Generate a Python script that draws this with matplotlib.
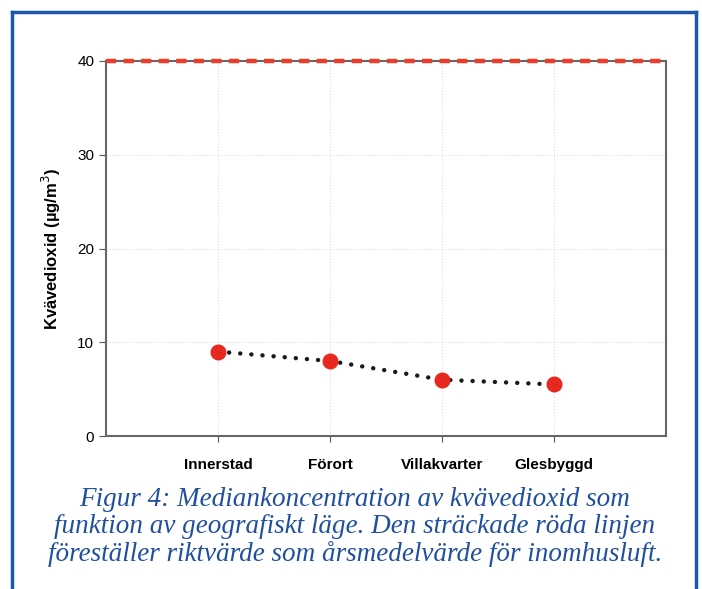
import matplotlib.pyplot as plt
from matplotlib.lines import Line2D

categories = ["Innerstad", "Förort", "Villakvarter", "Glesbyggd"]
median_no2 = [9.0, 8.0, 6.0, 5.5]
guideline = 40
y_ticks = [0, 10, 20, 30, 40]
caption = ("Figur 4: Mediankoncentration av kvävedioxid som\n"
           "funktion av geografiskt läge. Den sträckade röda linjen\n"
           "föreställer riktvärde som årsmedelvärde för inomhusluft.")

plt.rcParams["font.family"] = ["Liberation Sans", "DejaVu Sans"]

W, H = 702, 589
fig = plt.figure(figsize=(W / 100, H / 100), dpi=100)
ax = fig.add_axes([106 / W, 1 - 436 / H, 560 / W, 375 / H])

x = list(range(1, len(categories) + 1))
ax.plot(x, median_no2, linestyle=(0, (0.01, 2.5)), color="#1a1a1a", lw=3.2,
        dash_capstyle="round", zorder=2)
ax.plot(x, median_no2, "o", color="#e8281e", ms=10.5, zorder=3)
ax.axhline(guideline, color="#f03a2a", lw=3.2, linestyle=(0, (2.3, 1.65)),
           zorder=4, clip_on=False)

ax.set_xlim(0, 5)
ax.set_ylim(0, 40)
ax.set_yticks(y_ticks)
ax.set_xticks(x)
ax.set_xticklabels(categories, fontweight="bold", fontsize=11)
ax.tick_params(axis="y", labelsize=11, length=5, color="#555555")
ax.tick_params(axis="x", length=4, pad=12, color="#555555")
ax.grid(True, color="#dddddd", linestyle=":", lw=0.8)
for s in ax.spines.values():
    s.set_color("#666666")
    s.set_linewidth(1.5)
ax.set_ylabel("Kvävedioxid (µg/m$^3$)", fontweight="bold", fontsize=12, labelpad=10)

fig.text(355 / W, 1 - 527 / H, caption, ha="center", va="center",
         family="Liberation Serif", style="italic", fontsize=19.5,
         color="#1f4f9e", linespacing=1.13)

# blue frame open at the bottom
blue = "#1a5aa8"
fig.add_artist(Line2D([11.5 / W, 11.5 / W], [0, 1 - 11.5 / H], color=blue, lw=2.5,
                      transform=fig.transFigure))
fig.add_artist(Line2D([695.5 / W, 695.5 / W], [0, 1 - 11.5 / H], color=blue, lw=2.5,
                      transform=fig.transFigure))
fig.add_artist(Line2D([11.5 / W, 695.5 / W], [1 - 11.5 / H, 1 - 11.5 / H], color=blue,
                      lw=2.5, transform=fig.transFigure))

fig.savefig("out.png", dpi=100)
